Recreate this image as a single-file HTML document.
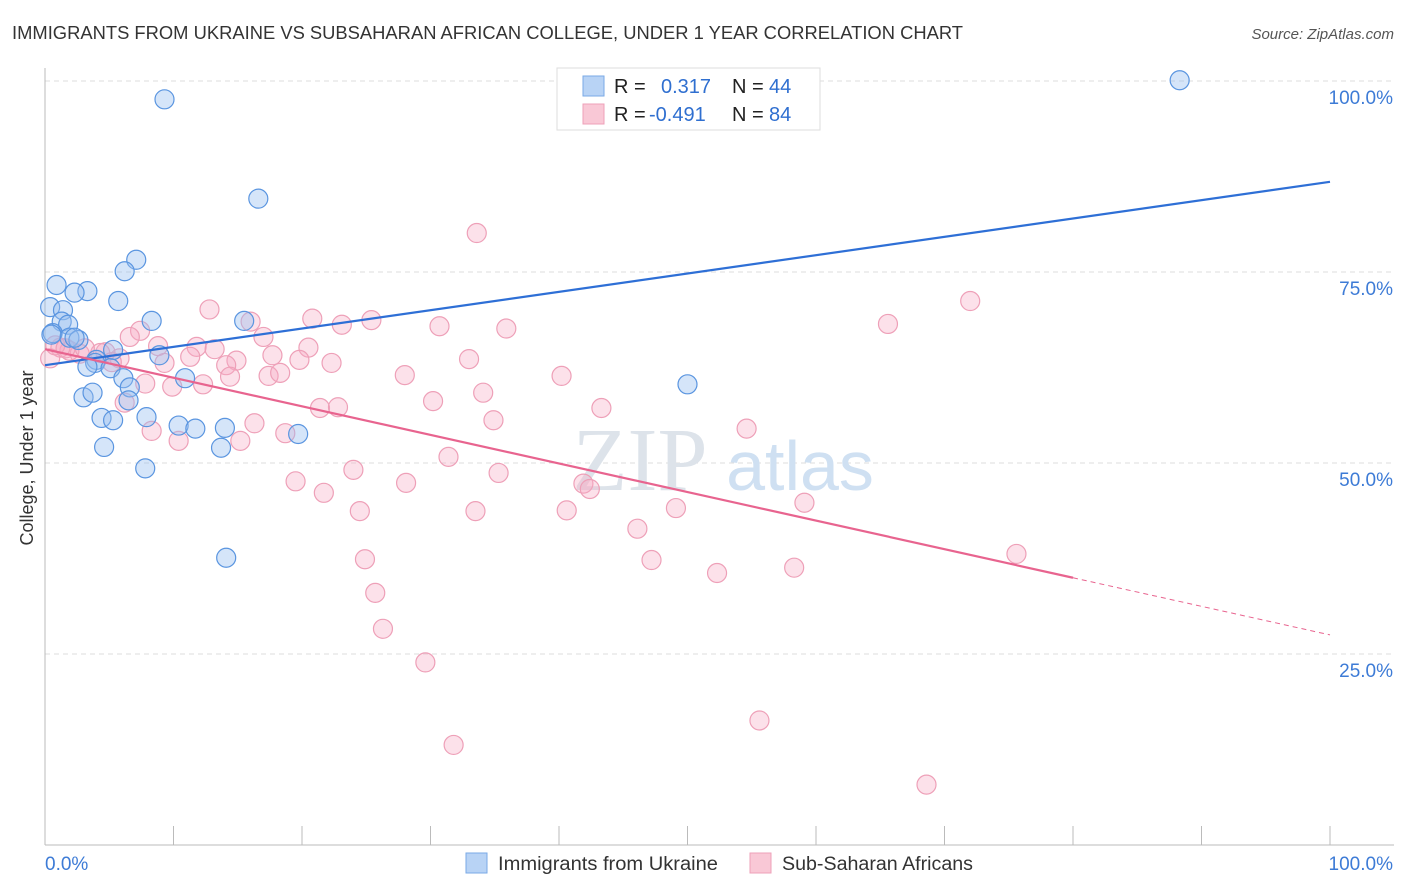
<!DOCTYPE html>
<html><head><meta charset="utf-8"><style>
body{margin:0;background:#fff;font-family:"Liberation Sans",sans-serif}
#c{position:absolute;left:0;top:0}
</style></head><body>
<svg id="c" width="1406" height="892">
<text x="12" y="39" font-size="18" fill="#333" textLength="951" lengthAdjust="spacingAndGlyphs">IMMIGRANTS FROM UKRAINE VS SUBSAHARAN AFRICAN COLLEGE, UNDER 1 YEAR CORRELATION CHART</text>
<text x="1394" y="39" font-size="15" fill="#555" font-style="italic" text-anchor="end">Source: ZipAtlas.com</text>
<text x="33" y="458" font-size="18" fill="#333" text-anchor="middle" transform="rotate(-90 33 458)">College, Under 1 year</text>
<g id="grid"></g>
<text x="640" y="490" font-size="90" fill="#dde3ea" font-family="Liberation Serif" text-anchor="middle">ZIP</text>
<text x="800" y="490" font-size="70" fill="#cfe0f2" text-anchor="middle">atlas</text>
<g id="pts"></g>
<g id="lines"></g>
<g>
<rect x="557" y="68" width="263" height="62" fill="#fff" stroke="#ddd"/>
<rect x="583" y="76" width="21" height="20" fill="#b8d3f5" stroke="#7aaae6"/>
<rect x="583" y="104" width="21" height="20" fill="#f9c8d6" stroke="#eea0b8"/>
<text x="614" y="93" font-size="20" fill="#222">R = <tspan x="661" fill="#2f6fd0">0.317</tspan><tspan x="732" fill="#222">N = </tspan><tspan x="769" fill="#2f6fd0">44</tspan></text>
<text x="614" y="121" font-size="20" fill="#222">R = <tspan x="649" fill="#2f6fd0">-0.491</tspan><tspan x="732" fill="#222">N = </tspan><tspan x="769" fill="#2f6fd0">84</tspan></text>
</g>
<g>
<rect x="466" y="853" width="21" height="20" fill="#b8d3f5" stroke="#7aaae6"/>
<text x="498" y="870" font-size="19" fill="#333" textLength="220" lengthAdjust="spacingAndGlyphs">Immigrants from Ukraine</text>
<rect x="750" y="853" width="21" height="20" fill="#f9c8d6" stroke="#eea0b8"/>
<text x="782" y="870" font-size="19" fill="#333" textLength="191" lengthAdjust="spacingAndGlyphs">Sub-Saharan Africans</text>
</g>
</svg>
<script>
const yTicks=[25,50,75,100];
const yTickLabels=["25.0%","50.0%","75.0%","100.0%"];
const blueX=[88.3,9.3,16.6,7.1,6.2,0.9,3.3,2.3,5.7,0.4,1.4,8.3,1.3,15.5,1.8,0.6,1.9,2.6,2.3,5.3,8.9,4.0,3.9,3.3,5.1,6.1,10.9,6.6,3.0,3.7,6.5,7.9,4.4,5.3,10.4,11.7,14.0,19.7,4.6,13.7,7.8,14.1,50.0,0.5];
const blueY=[100.1,97.6,84.6,76.6,75.1,73.3,72.5,72.3,71.2,70.4,70.0,68.6,68.5,68.6,68.1,67.0,66.4,66.1,66.4,64.8,64.1,63.5,63.1,62.6,62.4,61.1,61.1,59.9,58.6,59.2,58.2,56.0,55.9,55.6,54.9,54.5,54.6,53.8,52.1,52.0,49.3,37.6,60.3,66.8];
const pinkX=[33.6,12.8,16.0,20.8,23.1,25.4,30.7,35.9,72.0,65.6,7.4,6.6,17.0,8.8,11.8,13.2,20.5,17.7,19.8,22.3,11.3,5.8,9.3,14.9,14.1,4.7,2.7,1.9,1.2,0.4,7.8,9.9,12.3,14.4,17.4,18.3,28.0,33.0,40.2,34.1,30.2,21.4,22.8,43.3,34.9,6.2,8.3,10.4,15.2,16.3,18.7,31.4,24.0,35.3,19.5,28.1,21.7,41.9,42.4,24.5,33.5,40.6,49.1,59.1,54.6,46.1,47.2,52.3,58.3,75.6,24.9,25.7,26.3,29.6,31.8,55.6,68.6,0.8,1.6,4.3,5.2,3.1];
const pinkY=[80.1,70.1,68.5,68.9,68.1,68.7,67.9,67.6,71.2,68.2,67.3,66.5,66.5,65.3,65.2,64.9,65.1,64.1,63.5,63.1,63.9,63.7,63.1,63.4,62.8,64.5,64.3,64.7,65.1,63.7,60.4,60.0,60.3,61.3,61.4,61.8,61.5,63.6,61.4,59.2,58.1,57.2,57.3,57.2,55.6,57.9,54.2,52.9,52.9,55.2,53.9,50.8,49.1,48.7,47.6,47.4,46.1,47.3,46.6,43.7,43.7,43.8,44.1,44.8,54.5,41.4,37.3,35.6,36.3,38.1,37.4,33.0,28.3,23.9,13.1,16.3,7.9,65.4,65.0,64.4,63.2,65.0];
const blueFit=[62.8,86.8], pinkFit=[64.9,27.5], pinkSolidEnd=80;
const X=v=>45+v*12.85, Y=v=>845-v*7.64;
const NS="http://www.w3.org/2000/svg";
function mk(t,a,p){const e=document.createElementNS(NS,t);for(const k in a)e.setAttribute(k,a[k]);p.appendChild(e);return e;}
const g=document.getElementById('grid');
for(let i=0;i<yTicks.length;i++){
 const l=mk('line',{x1:45,x2:1394,y1:Y(yTicks[i]),y2:Y(yTicks[i]),stroke:'#ddd','stroke-dasharray':'5,4'},g);
 
 
 const t=mk('text',{x:1393,y:Y(yTicks[i])+23,'font-size':19,fill:'#3d7bd6','text-anchor':'end'},g);
 t.textContent=yTickLabels[i];
 
 
}
mk('line',{x1:45,x2:45,y1:68,y2:845,stroke:'#bbb'},g);
mk('line',{x1:45,x2:1394,y1:845,y2:845,stroke:'#bbb'},g);
for(let i=0;i<=10;i++){const x=X(i*10);mk('line',{x1:x,x2:x,y1:826,y2:845,stroke:'#bbb'},g);}
const t0=mk('text',{x:45,y:870,'font-size':19,fill:'#3d7bd6'},g);t0.textContent='0.0%';


const t1=mk('text',{x:1393,y:870,'font-size':19,fill:'#3d7bd6','text-anchor':'end'},g);t1.textContent='100.0%';


const p=document.getElementById('pts');
for(let i=0;i<pinkX.length;i++){
 const c=mk('circle',{cx:X(pinkX[i]),cy:Y(pinkY[i]),r:9.5,fill:'rgba(246,170,195,0.35)',stroke:'#eea0b8','stroke-width':1.2},p);
 
 
}
for(let i=0;i<blueX.length;i++){
 const c=mk('circle',{cx:X(blueX[i]),cy:Y(blueY[i]),r:9.5,fill:'rgba(150,190,240,0.4)',stroke:'#5a95e0','stroke-width':1.2},p);
 
 
}
const L=document.getElementById('lines');
const bl=mk('line',{x1:X(0),y1:Y(blueFit[0]),x2:X(100),y2:Y(blueFit[1]),stroke:'#2e6fd6','stroke-width':2.2},L);


const pe=pinkFit[0]+(pinkFit[1]-pinkFit[0])*pinkSolidEnd/100;
const pl=mk('line',{x1:X(0),y1:Y(pinkFit[0]),x2:X(pinkSolidEnd),y2:Y(pe),stroke:'#e8648f','stroke-width':2.2},L);


const pd=mk('line',{x1:X(pinkSolidEnd),y1:Y(pe),x2:X(100),y2:Y(pinkFit[1]),stroke:'#e8648f','stroke-width':1,'stroke-dasharray':'5,4'},L);


</script>
</body></html>
